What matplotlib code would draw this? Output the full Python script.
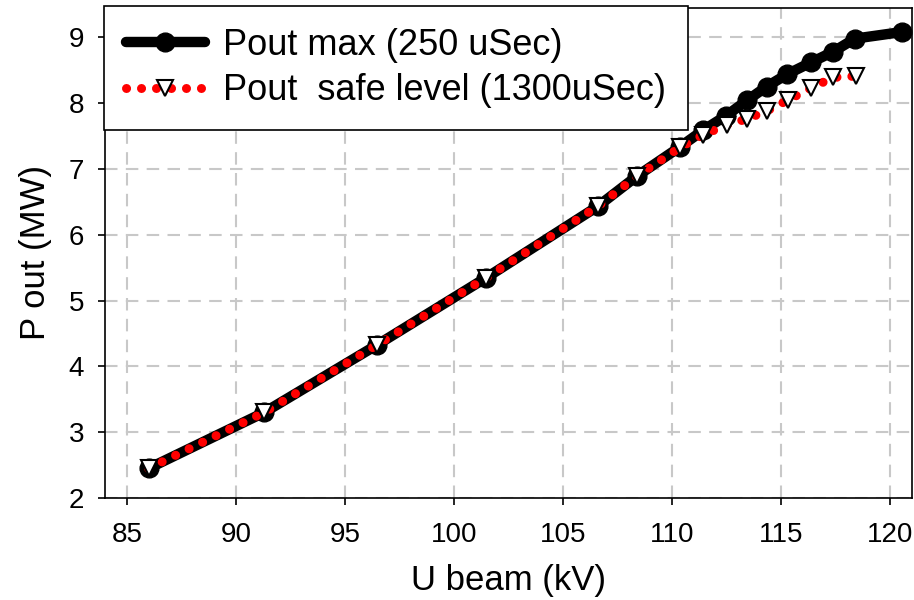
import matplotlib
matplotlib.use("Agg")
from matplotlib import pyplot as plt

plt.rcParams['font.family'] = ['Liberation Sans', 'DejaVu Sans']

# U beam (kV) vs output power (MW)
u_max = [86.0, 91.3, 96.5, 101.5, 106.6, 108.4, 110.4, 111.45, 112.5, 113.45,
         114.35, 115.3, 116.4, 117.4, 118.4, 120.55]
p_max = [2.45, 3.30, 4.33, 5.35, 6.43, 6.89, 7.34, 7.59, 7.81, 8.04,
         8.25, 8.44, 8.62, 8.78, 8.98, 9.08]

u_safe = [86.0, 91.3, 96.5, 101.5, 106.6, 108.4, 110.4, 111.45, 112.55, 113.45,
          114.35, 115.35, 116.4, 117.4, 118.45]
p_safe = [2.45, 3.30, 4.33, 5.35, 6.43, 6.89, 7.33, 7.52, 7.67, 7.76,
          7.88, 8.05, 8.23, 8.39, 8.41]

xticks = [85, 90, 95, 100, 105, 110, 115, 120]
yticks = [2, 3, 4, 5, 6, 7, 8, 9]

fig = plt.figure(figsize=(9.14, 6), dpi=100)
ax = fig.add_axes([105/914, 1 - 498/600, (911.5 - 105)/914, (498 - 7.7)/600])

ax.plot(u_max, p_max, color='black', lw=7.5, marker='o', ms=13.5,
        solid_capstyle='round', label='Pout max (250 uSec)', zorder=3)
ax.plot(u_safe, p_safe, color='red', lw=6.5, dashes=(0.01, 1.65),
        dash_capstyle='round', marker='v', ms=12, mfc='white', mec='black',
        mew=1.5, label='Pout  safe level (1300uSec)', zorder=4)

ax.set_xlim(84, 121)
ax.set_ylim(2, 9.45)
ax.set_xticks(xticks)
ax.set_yticks(yticks)
ax.tick_params(axis='both', direction='out', length=5, width=1.2, labelsize=20)
ax.tick_params(axis='x', pad=12)
ax.tick_params(axis='y', pad=10)
ax.grid(True, color='#c8c8c8', lw=1.5, dashes=(6, 4))
ax.set_axisbelow(True)
for s in ax.spines.values():
    s.set_linewidth(1.2)

ax.set_xlabel('U beam (kV)', fontsize=25, labelpad=12)
ax.set_ylabel('P out (MW)', fontsize=25, labelpad=12)

leg = ax.legend(loc='upper left', bbox_to_anchor=(104/914, 1 - 6/600),
                bbox_transform=fig.transFigure, borderaxespad=0,
                fontsize=26, handlelength=2.2, fancybox=False,
                framealpha=1, edgecolor='black', labelspacing=0.3,
                borderpad=0.6, handletextpad=0.5)
leg.get_frame().set_linewidth(1.2)

fig.savefig('out.png', dpi=100)
